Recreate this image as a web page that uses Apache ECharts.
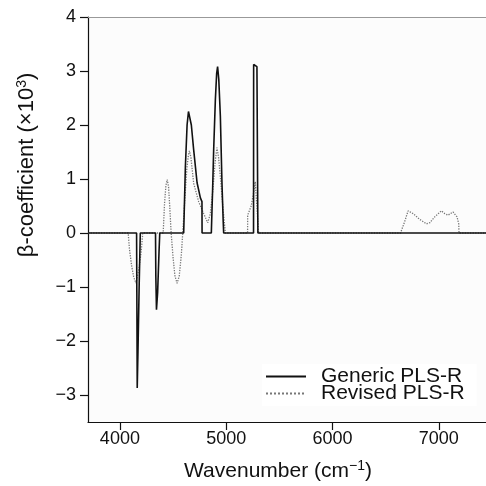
<!DOCTYPE html>
<html>
<head>
<meta charset="utf-8">
<script src="https://cdn.jsdelivr.net/npm/echarts@6/dist/echarts.min.js"></script>
<style>
  html, body { margin: 0; padding: 0; background: #fff; }
  #chart { width: 486px; height: 486px; }
</style>
</head>
<body>
<div id="chart"></div>
<script>
// wavenumber (cm-1) / beta-coefficient (x10^3)
const genericWave = [3700, 4157, 4160, 4163, 4170, 4182, 4192, 4335, 4338, 4344, 4355, 4368, 4375,
  4600, 4616, 4632, 4645, 4657, 4672, 4694, 4726, 4757, 4772, 4773,
  4860, 4872, 4882, 4898, 4910, 4919, 4930, 4945, 4960, 4972, 4976,
  5257, 5258, 5289, 5297, 5298, 7500];
const genericBeta = [0, 0, -1.4, -2.87, -2.2, -0.9, 0, 0, -0.8, -1.42, -1.1, -0.35, 0,
  0, 1.23, 2.0, 2.25, 2.27, 2.0, 1.54, 0.93, 0.65, 0.58, 0,
  0, 0.8, 1.54, 2.47, 2.95, 3.08, 2.85, 2.16, 0.93, 0.2, 0,
  0, 3.12, 3.08, 3.06, 0, 0];

const revisedWave = [3700, 4078, 4090, 4110, 4130, 4152, 4165, 4180, 4200, 4215,
  4407, 4420, 4433, 4445, 4458, 4470, 4482, 4500, 4518, 4538, 4558, 4578, 4591,
  4610, 4630, 4645, 4654, 4668, 4694, 4741, 4788, 4826, 4850, 4875, 4895, 4913, 4928, 4945, 4970, 4992,
  5201, 5202, 5235, 5258, 5273, 5285, 5305,
  6640, 6680, 6711, 6758, 6821, 6884, 6915, 6962, 7024, 7055, 7086, 7133, 7171, 7187, 7190, 7500];
const revisedBeta = [0, 0, -0.3, -0.6, -0.82, -0.93, -0.9, -0.65, -0.35, 0,
  0, 0.55, 0.88, 0.99, 0.85, 0.45, 0, -0.45, -0.8, -0.93, -0.8, -0.4, 0,
  0.6, 1.2, 1.45, 1.52, 1.4, 0.92, 0.58, 0.36, 0.19, 0.35, 0.8, 1.3, 1.58, 1.4, 1.04, 0.45, 0,
  0, 0.33, 0.5, 0.75, 0.95, 0.6, 0,
  0, 0.22, 0.41, 0.36, 0.25, 0.17, 0.19, 0.3, 0.41, 0.36, 0.33, 0.39, 0.3, 0.17, 0, 0];

const xTicks = [4000, 5000, 6000, 7000];
const yTicks = [-3, -2, -1, 0, 1, 2, 3, 4];

const seriesNames = ['Generic PLS-R', 'Revised PLS-R'];

const zip = (xs, ys) => xs.map((x, i) => [x, ys[i]]);
const fmtY = (v) => (v < 0 ? '\u2212' + Math.abs(v) : String(v));
const font = 'Liberation Sans';

const chart = echarts.init(document.getElementById('chart'));

chart.setOption({
  animation: false,
  backgroundColor: '#fff',
  textStyle: { fontFamily: font },
  grid: {
    left: 88,
    right: -6,
    top: 17,
    bottom: 64,
    show: true,
    backgroundColor: '#fcfcfc',
    borderWidth: 0,
    outerBoundsMode: 'none'
  },
  legend: {
    orient: 'vertical',
    left: 262,
    top: 364,
    data: seriesNames,
    itemWidth: 40,
    itemHeight: 10,
    itemGap: -4,
    itemTextGap: 16,
    itemStyle: { opacity: 0 },
    backgroundColor: '#fff',
    padding: [2, 12, 2, 3],
    borderRadius: 0,
    textStyle: { fontFamily: font, fontSize: 21, lineHeight: 17, color: '#111', padding: [0, 0, 0, 10] }
  },
  xAxis: [
    {
      type: 'value',
      min: 3700,
      max: 7500,
      name: 'Wavenumber (cm{sup|\u22121})',
      nameLocation: 'middle',
      nameGap: 37,
      nameTextStyle: {
        fontFamily: font,
        fontSize: 21,
        lineHeight: 24,
        color: '#111',
        padding: [0, 24, 0, 0],
        rich: { sup: { fontFamily: font, fontSize: 14, lineHeight: 14, verticalAlign: 'top', color: '#111' } }
      },
      splitLine: { show: false },
      axisLine: { show: true, onZero: false, lineStyle: { color: '#111', width: 1.2 } },
      axisTick: { show: true, customValues: xTicks, length: 8, lineStyle: { color: '#111', width: 1.2 } },
      axisLabel: { customValues: xTicks, formatter: (v) => String(v), fontSize: 18, color: '#111', margin: 8, fontFamily: font }
    },
    {
      type: 'value',
      position: 'top',
      min: 3700,
      max: 7500,
      splitLine: { show: false },
      axisLine: { show: true, onZero: false, lineStyle: { color: '#999', width: 1 } },
      axisTick: { show: false },
      axisLabel: { show: false }
    }
  ],
  yAxis: {
    type: 'value',
    min: -3.5,
    max: 4,
    splitLine: { show: false },
    axisLine: { show: true, onZero: false, lineStyle: { color: '#111', width: 1.2 } },
    axisTick: { show: true, customValues: yTicks, length: 8, lineStyle: { color: '#111', width: 1.2 } },
    axisLabel: { customValues: yTicks, formatter: fmtY, fontSize: 18, color: '#111', margin: 12, fontFamily: font }
  },
  graphic: [
    {
      type: 'text',
      x: 27,
      y: 165,
      rotation: Math.PI / 2,
      style: {
        text: '\u03b2-coefficient (\u00d710{sup|3})',
        rich: { sup: { fontFamily: font, fontSize: 14, lineHeight: 14, verticalAlign: 'top', fill: '#111' } },
        fontFamily: font,
        fontSize: 22,
        lineHeight: 24,
        fill: '#111',
        align: 'center',
        verticalAlign: 'middle'
      }
    }
  ],
  series: [
    {
      name: seriesNames[1],
      type: 'line',
      data: zip(revisedWave, revisedBeta),
      showSymbol: false,
      symbol: 'none',
      lineStyle: { color: '#777', width: 1.3, type: 'dotted' },
      itemStyle: { color: '#777' },
      z: 2
    },
    {
      name: seriesNames[0],
      type: 'line',
      data: zip(genericWave, genericBeta),
      showSymbol: false,
      symbol: 'none',
      lineStyle: { color: '#111', width: 1.6 },
      itemStyle: { color: '#111' },
      z: 3
    }
  ]
});
</script>
</body>
</html>
